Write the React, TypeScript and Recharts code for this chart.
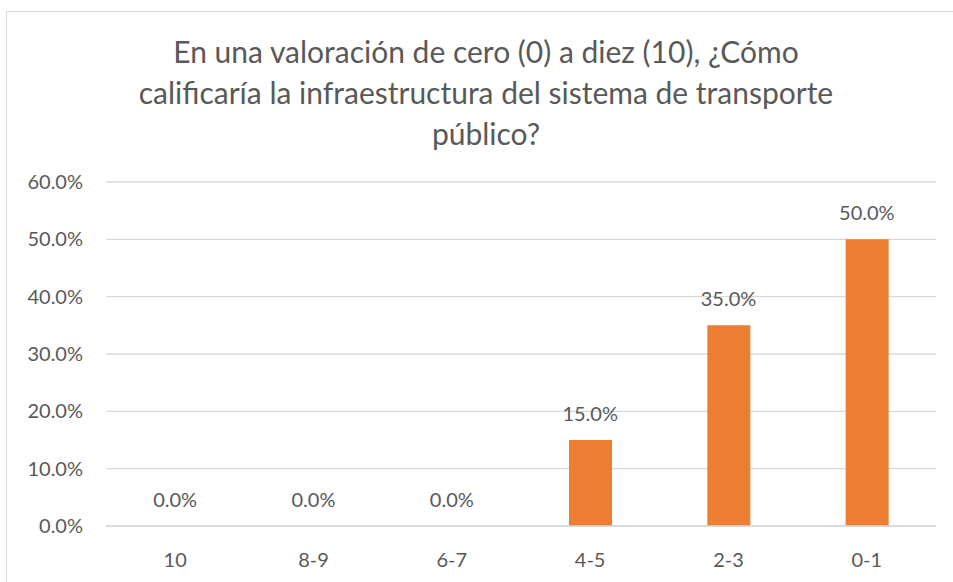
import { ComposedChart, Bar, Line, XAxis, YAxis, CartesianGrid, LabelList } from 'recharts'

const CATEGORIES = ['10', '8-9', '6-7', '4-5', '2-3', '0-1']
const SHARES = [0, 0, 0, 15, 35, 50]
const Y_TICKS = [0, 10, 20, 30, 40, 50, 60]
const TITLE_LINES = [
  'En una valoración de cero (0) a diez (10), ¿Cómo',
  'calificaría la infraestructura del sistema de transporte',
  'público?',
]

const TEXT = '#595959'
const FONT = 'Lato, "Open Sans", sans-serif'

const data = CATEGORIES.map((name, i) => ({ name, value: SHARES[i] }))
const pct = (v: number) => `${Number(v).toFixed(1)}%`

export default function App() {
  return (
    <div
      style={{
        position: 'fixed',
        left: 0,
        top: 0,
        width: 953,
        height: 582,
        overflow: 'hidden',
        background: '#fff',
        fontFamily: FONT,
      }}
    >
      <div
        style={{
          position: 'absolute',
          left: 6,
          top: 11,
          width: 970,
          height: 600,
          border: '1px solid #d9d9d9',
        }}
      />
      <div style={{ position: 'absolute', left: 0, top: 31, width: 972, textAlign: 'center' }}>
        {TITLE_LINES.map((line) => (
          <div key={line} style={{ fontSize: 30, lineHeight: '41px', color: TEXT }}>
            {line}
          </div>
        ))}
      </div>
      <div style={{ position: 'absolute', left: 0, top: 0 }}>
        <ComposedChart
          width={953}
          height={582}
          data={data}
          margin={{ top: 182, right: 17, bottom: 26, left: 0 }}
        >
          <CartesianGrid vertical={false} stroke="#d9d9d9" strokeWidth={1.3} />
          <XAxis
            dataKey="name"
            height={30}
            tickLine={false}
            axisLine={{ stroke: '#d9d9d9', strokeWidth: 1.3 }}
            tickMargin={21}
            tick={{ fill: TEXT, fontSize: 20, fontFamily: FONT }}
          />
          <YAxis
            width={106}
            domain={[0, 60]}
            ticks={Y_TICKS}
            tickFormatter={pct}
            axisLine={false}
            tickLine={false}
            tickSize={0}
            tickMargin={23}
            tick={{ fill: TEXT, fontSize: 20, fontFamily: FONT }}
          />
          <Bar dataKey="value" fill="#ed7d31" barSize={43} isAnimationActive={false} />
          {/* invisible line only carries the value labels, so zero bars get one too */}
          <Line
            dataKey="value"
            stroke="none"
            dot={false}
            activeDot={false}
            isAnimationActive={false}
          >
            <LabelList
              dataKey="value"
              position="top"
              offset={19}
              formatter={pct}
              style={{ fill: TEXT, fontSize: 20, fontFamily: FONT }}
            />
          </Line>
        </ComposedChart>
      </div>
    </div>
  )
}
